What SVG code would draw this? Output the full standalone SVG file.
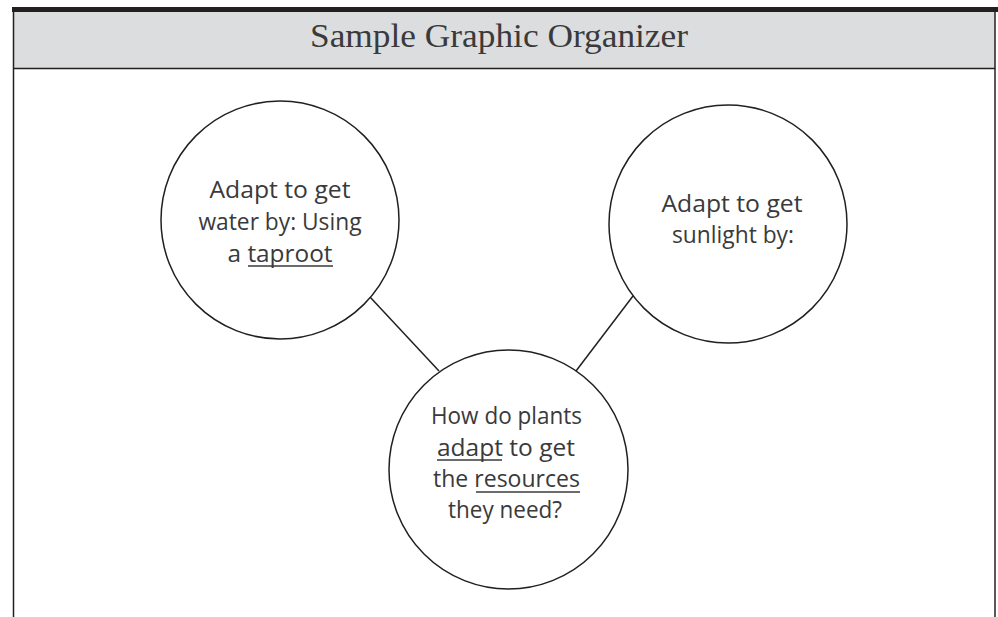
<svg xmlns="http://www.w3.org/2000/svg" width="998" height="617" viewBox="0 0 998 617">
<style>
.frame{fill:none;stroke:#231f20;stroke-width:1.5}
.node{fill:#fff;stroke:#231f20;stroke-width:1.5}
.conn{stroke:#231f20;stroke-width:1.5}
.hand{font-family:"Open Sans","Liberation Sans",sans-serif;font-size:23px;fill:#3a3a3a;text-anchor:middle}
.title{font-family:"Liberation Serif",serif;font-size:34px;fill:#3a3a3a;text-anchor:middle}
.ul{stroke:#3a3a3a;stroke-width:1.5}
</style>
<rect width="998" height="617" fill="#fff"/>
<g id="header">
<rect x="13" y="12" width="982" height="56.5" fill="#dcdddf"/>
<rect x="12" y="7" width="986" height="5" fill="#231f20"/>
<line class="frame" x1="13" y1="68.5" x2="995" y2="68.5"/>
<line class="frame" x1="13.5" y1="10" x2="13.5" y2="617"/>
<line class="frame" x1="995" y1="10" x2="995" y2="617"/>
<text class="title" x="499" y="47" textLength="378" lengthAdjust="spacingAndGlyphs">Sample Graphic Organizer</text>
</g>
<g id="connectors">
<line class="conn" x1="370" y1="297" x2="439" y2="371"/>
<line class="conn" x1="633" y1="296" x2="576" y2="371"/>
</g>
<g id="water">
<circle class="node" cx="280" cy="220" r="119"/>
<text class="hand" x="280" y="198" textLength="141" lengthAdjust="spacingAndGlyphs">Adapt to get</text>
<text class="hand" x="280" y="230" textLength="163" lengthAdjust="spacingAndGlyphs">water by: Using</text>
<text class="hand" x="280" y="262" textLength="105" lengthAdjust="spacingAndGlyphs">a taproot</text>
<line class="ul" x1="248" y1="266" x2="333" y2="266"/>
</g>
<g id="sunlight">
<circle class="node" cx="728" cy="224" r="119"/>
<text class="hand" x="732" y="212" textLength="141" lengthAdjust="spacingAndGlyphs">Adapt to get</text>
<text class="hand" x="733" y="243" textLength="122" lengthAdjust="spacingAndGlyphs">sunlight by:</text>
</g>
<g id="question">
<circle class="node" cx="508.5" cy="469.5" r="119.5"/>
<text class="hand" x="506.5" y="424" textLength="151" lengthAdjust="spacingAndGlyphs">How do plants</text>
<text class="hand" x="506" y="456" textLength="138" lengthAdjust="spacingAndGlyphs">adapt to get</text>
<text class="hand" x="506.5" y="487" textLength="147" lengthAdjust="spacingAndGlyphs">the resources</text>
<text class="hand" x="505" y="518" textLength="114" lengthAdjust="spacingAndGlyphs">they need?</text>
<line class="ul" x1="437" y1="460" x2="502" y2="460"/>
<line class="ul" x1="476" y1="492" x2="580" y2="492"/>
</g>
</svg>
